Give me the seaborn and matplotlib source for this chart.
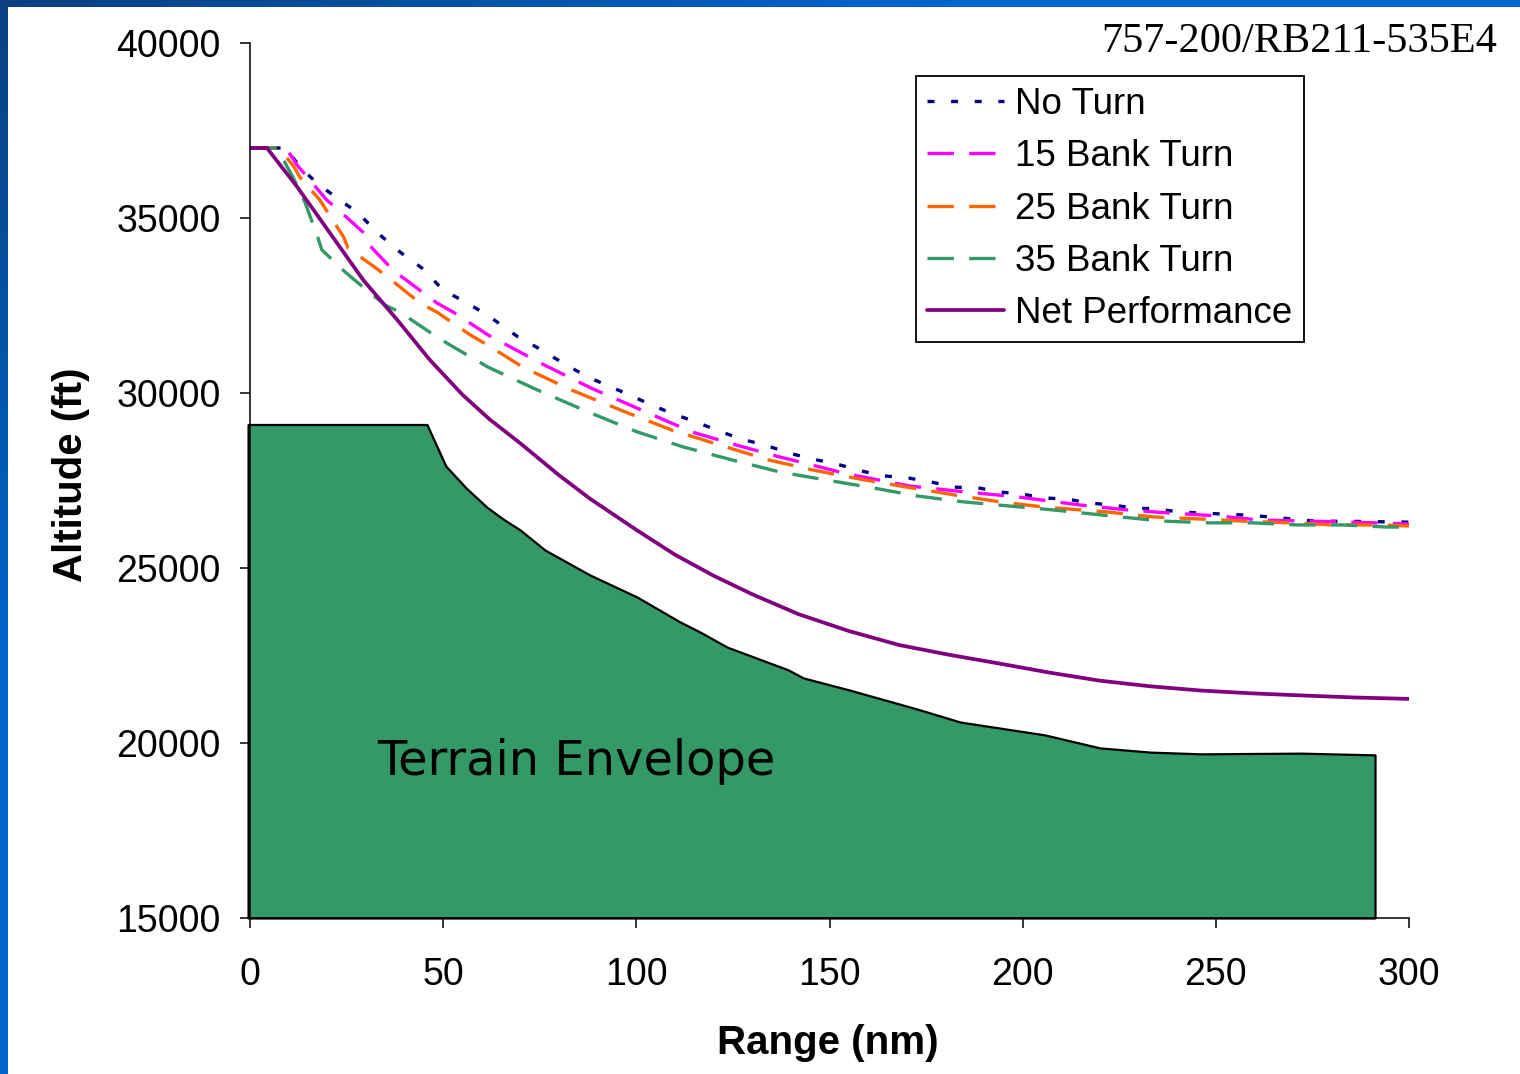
import numpy as np
import pandas as pd
import matplotlib
matplotlib.use("Agg")
import matplotlib.pyplot as plt
import seaborn as sns

# ---- data (range in nm, altitude in ft) ----
no_turn_range = [0, 9.3, 12.9, 17.3, 22.5, 27.7, 33.7, 38.8, 44.5, 50.0, 56.2, 61.4, 69.4, 74.5,
                 82.3, 88.0, 95.8, 101.7, 108.2, 114.7, 120.9, 126.9, 133.4, 139.3, 145.7, 151.9,
                 158.3, 164.3, 170.5, 176.2, 182.2, 188.5, 194.1, 199.9, 205.8, 211.5, 217.0, 223.0,
                 229.2, 234.7, 240.4, 246.4, 252.2, 258.0, 264.0, 269.6, 275.6, 287.0, 300]
no_turn_alt = [37000, 37000, 36460, 36000, 35570, 35170, 34510, 34030, 33570, 32940, 32570, 32230,
               31600, 31290, 30770, 30430, 30060, 29770, 29460, 29200, 28940, 28690, 28510, 28290,
               28110, 27970, 27770, 27630, 27570, 27460, 27310, 27290, 27170, 27110, 27000, 26970,
               26860, 26800, 26710, 26690, 26600, 26570, 26540, 26510, 26460, 26400, 26340, 26330,
               26310]

bank15_range = [0, 9.3, 12.2, 14.8, 19.9, 23.8, 29.2, 31.6, 37.0, 48.4, 52.6, 61.6, 75.1, 88.3,
                101.4, 114.3, 126.0, 137.2, 142.4, 154.5, 170.9, 185.5, 198.8, 214.9, 227.0, 238.1,
                250.3, 261.4, 273.6, 284.7, 300]
bank15_alt = [37000, 37000, 36510, 36170, 35510, 35140, 34600, 34140, 33510, 32570, 32310, 31660,
              30860, 30140, 29510, 28890, 28510, 28170, 28030, 27690, 27340, 27170, 27030, 26800,
              26660, 26570, 26490, 26370, 26340, 26310, 26260]

bank25_range = [0, 7.5, 11.4, 12.9, 18.1, 24.2, 25.4, 32.6, 35.9, 44.0, 48.4, 57.0, 61.5, 70.6,
                83.1, 97.1, 109.2, 121.7, 134.1, 145.7, 157.9, 170.1, 182.2, 194.1, 205.6, 221.9,
                233.8, 245.9, 257.0, 269.2, 280.3, 292.5, 300]
bank25_alt = [37000, 37000, 36460, 36170, 35510, 34460, 34140, 33570, 33290, 32570, 32310, 31660,
              31370, 30740, 30090, 29460, 28940, 28510, 28090, 27800, 27540, 27310, 27090, 26890,
              26740, 26600, 26460, 26400, 26340, 26290, 26230, 26230, 26200]

bank35_range = [0, 7.0, 9.8, 11.1, 14.2, 17.6, 18.6, 24.6, 27.7, 35.0, 38.8, 48.4, 51.8, 61.6,
                74.3, 87.5, 100.2, 112.1, 124.7, 137.2, 149.4, 161.2, 172.6, 184.6, 196.7, 207.8,
                225.2, 236.3, 248.5, 259.6, 271.0, 282.9, 294.3, 300]
bank35_alt = [37000, 37000, 36430, 36170, 35460, 34430, 34090, 33460, 33170, 32510, 32310, 31600,
              31370, 30740, 30090, 29460, 28890, 28460, 28090, 27740, 27510, 27290, 27060, 26890,
              26770, 26660, 26460, 26340, 26290, 26290, 26230, 26230, 26170, 26170]

net_range = [0, 4.4, 12.2, 20.7, 29.3, 38.1, 46.6, 55, 62, 70, 80, 88, 100, 110, 120, 130, 142,
             155, 168, 181, 194, 207, 220, 233, 246, 259, 272, 286, 300]
net_alt = [37000, 37000, 35890, 34570, 33230, 32090, 30940, 29950, 29250, 28560, 27650, 26980,
           26090, 25380, 24780, 24250, 23680, 23200, 22800, 22520, 22270, 22010, 21780, 21620,
           21500, 21420, 21360, 21300, 21260]

terrain_range = [-0.5, 45.8, 50.7, 56.0, 61.3, 65.5, 69.9, 76.4, 88, 100.2, 111.3, 116.5, 123.5,
                 139.3, 143.2, 155.3, 172.7, 183.8, 205.8, 220, 233, 246, 272, 291.2]
terrain_alt = [29100, 29100, 27910, 27280, 26740, 26400, 26090, 25510, 24800, 24170, 23460, 23170,
               22740, 22090, 21860, 21510, 20970, 20600, 20230, 19860, 19740, 19690, 19710, 19660]

series_names = ["No Turn", "15 Bank Turn", "25 Bank Turn", "35 Bank Turn", "Net Performance"]
series_colors = ["#000080", "#FF00FF", "#FF6600", "#339966", "#800080"]
series_dashes = [(5, 12), (19, 11), (19, 11), (19, 11), ""]

x_ticks = [0, 50, 100, 150, 200, 250, 300]
y_ticks = [15000, 20000, 25000, 30000, 35000, 40000]

title_text = "757-200/RB211-535E4"
terrain_label = "Terrain Envelope"

# ---- long-form table for seaborn ----
frames = []
for name, xs, ys in zip(series_names,
                        [no_turn_range, bank15_range, bank25_range, bank35_range, net_range],
                        [no_turn_alt, bank15_alt, bank25_alt, bank35_alt, net_alt]):
    frames.append(pd.DataFrame({"Range (nm)": xs, "Altitude (ft)": ys, "Case": name}))
df = pd.concat(frames, ignore_index=True)

sns.set_theme(style="ticks")
plt.rcParams["font.family"] = ["Liberation Sans", "DejaVu Sans"]
plt.rcParams["lines.scale_dashes"] = False

W, H = 1520, 1074
fig = plt.figure(figsize=(W / 100, H / 100), dpi=100, facecolor="white")

# slide border strips (top and left) with a dark-to-light blue gradient
img = np.zeros((H, W, 4))
yy, xx = np.mgrid[0:H, 0:W]
t = np.clip(xx / W * 1.6 + yy / H * 1.6, 0, 1)
dark = np.array([0.04, 0.25, 0.50])
light = np.array([0.0, 0.40, 0.80])
rgb = dark[None, None, :] * (1 - t[..., None]) + light[None, None, :] * t[..., None]
mask = (yy < 7) | (xx < 8)
img[..., :3] = rgb
img[..., 3] = mask.astype(float)
fig.figimage(img, xo=0, yo=0, origin="upper", zorder=0)

ax = fig.add_axes([250 / W, 1 - 918 / H, (1409 - 250) / W, (918 - 43) / H])
ax.set_facecolor("none")

# terrain envelope
ax.fill_between(terrain_range, terrain_alt, 15000, facecolor="#339966", edgecolor="black",
                linewidth=1.6, clip_on=False, zorder=1)
ax.text(33, 19480, terrain_label, fontsize=34.5, family=["DejaVu Sans"], va="center", ha="left",
        color="black", zorder=3)

sns.lineplot(data=df, x="Range (nm)", y="Altitude (ft)", hue="Case", style="Case",
             palette=dict(zip(series_names, series_colors)),
             dashes=dict(zip(series_names, series_dashes)),
             hue_order=series_names, style_order=series_names,
             estimator=None, sort=False, linewidth=2.4, legend=False, ax=ax, zorder=2)
ax.lines[len(series_names) - 1].set_linewidth(2.7)

ax.set_xlim(0, 300)
ax.set_ylim(15000, 40000)
ax.set_xticks(x_ticks)
ax.set_yticks(y_ticks)
ax.set_xticklabels([str(v) for v in x_ticks])
ax.set_yticklabels([str(v) for v in y_ticks])
ax.tick_params(axis="both", direction="out", length=7, width=1.1, labelsize=27,
               color="black", labelcolor="black")
ax.tick_params(axis="y", pad=14)
ax.tick_params(axis="x", pad=21)
for side in ["left", "bottom"]:
    ax.spines[side].set_linewidth(1.1)
    ax.spines[side].set_color("black")
sns.despine(ax=ax)

ax.set_xlabel("Range (nm)", fontsize=29, fontweight="bold", color="black")
ax.set_ylabel("Altitude (ft)", fontsize=29, fontweight="bold", color="black")
ax.xaxis.set_label_coords(0.4987, -0.121)
ax.yaxis.set_label_coords(-0.138, 0.506)

# legend
handles = ax.lines[:len(series_names)]
leg = ax.legend(handles, series_names, loc="upper left",
                bbox_to_anchor=(916 / W, 1 - 76 / H), bbox_transform=fig.transFigure,
                frameon=True, fancybox=False, shadow=False, framealpha=1,
                edgecolor="black", fontsize=26.5, handlelength=2.1, handletextpad=0.3,
                labelspacing=0.47, borderpad=0.3, borderaxespad=0)
leg.get_frame().set_linewidth(1.3)
for txt in leg.get_texts():
    txt.set_color("black")

fig.text(1497 / W, 1 - 52 / H, title_text, family=["Liberation Serif", "DejaVu Serif"],
         fontsize=30.5, ha="right", va="baseline", color="black")

fig.savefig("out.png", dpi=100, facecolor="white")
